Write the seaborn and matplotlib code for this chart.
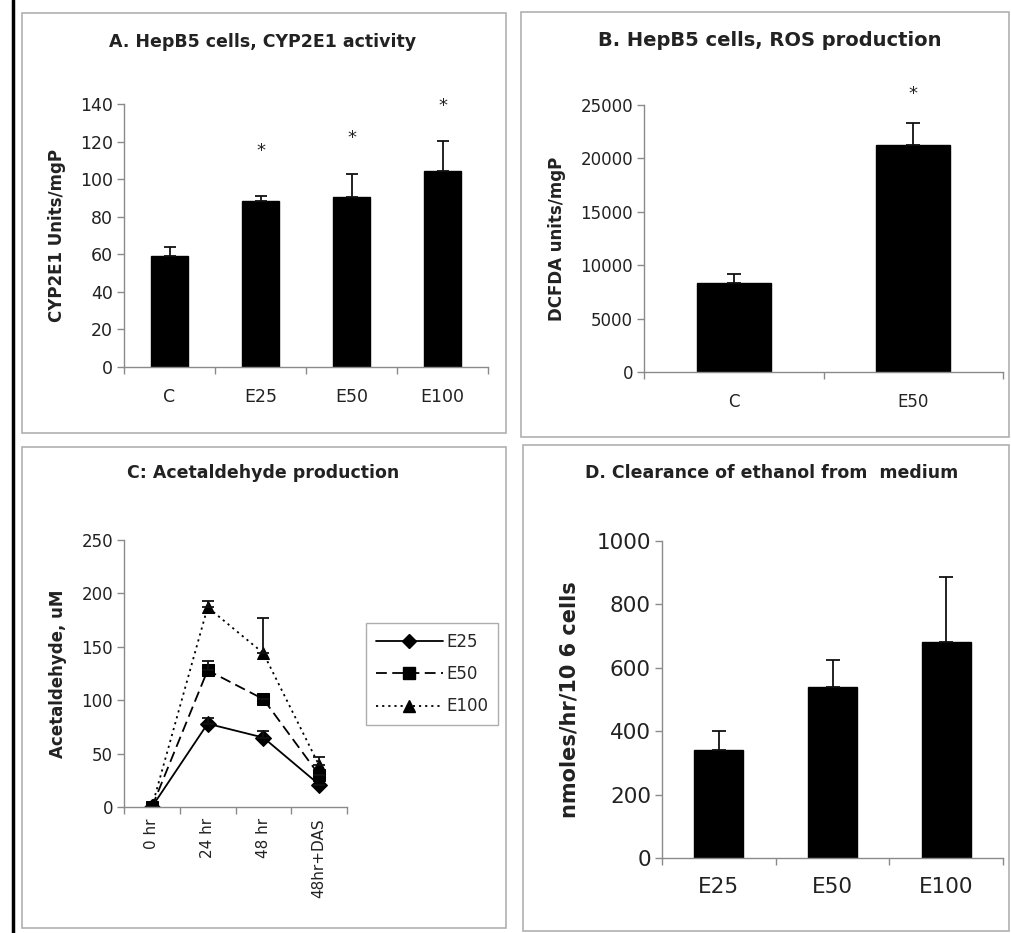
import matplotlib
matplotlib.use("Agg")
import matplotlib.pyplot as plt
import seaborn as sns
import pandas as pd
import numpy as np
from matplotlib.patches import Rectangle
from matplotlib.lines import Line2D

# ---------------- data ----------------
a_groups = ["C", "E25", "E50", "E100"]
a_values = [59, 88.5, 90.5, 104.5]
a_errors = [5, 2.5, 12.5, 16]
a_stars = [None, 115, 122, 139]

b_groups = ["C", "E50"]
b_values = [8300, 21300]
b_errors = [850, 2000]
b_stars = [None, 26000]

c_times = ["0 hr", "24 hr", "48 hr", "48hr+DAS"]
c_e25 = [0, 78, 65, 21]
c_e25_err = [0, 5, 6, 0]
c_e50 = [0, 128, 101, 30]
c_e50_err = [0, 9, 0, 0]
c_e100 = [0, 187, 144, 39]
c_e100_err = [0, 6, 33, 8]

d_groups = ["E25", "E50", "E100"]
d_values = [340, 540, 681]
d_errors = [60, 85, 207]

# ---------------- style ----------------
sns.set_theme(style="white")
plt.rcParams["font.family"] = ["DejaVu Sans"]
AXC = "#8a8a8a"
TXT = "#222222"

W, H = 1011, 933
fig = plt.figure(figsize=(W / 100, H / 100), dpi=100)


def add_ax(left, right, bottom, top):
    return fig.add_axes([left / W, (H - bottom) / H, (right - left) / W, (bottom - top) / H])


def style_ax(ax, n, tick_fs, xtick_fs=None):
    for s in ["top", "right"]:
        ax.spines[s].set_visible(False)
    for s in ["left", "bottom"]:
        ax.spines[s].set_color(AXC)
        ax.spines[s].set_linewidth(1.0)
    ax.set_xlim(-0.5, n - 0.5)
    ax.set_xticks(np.arange(-0.5, n, 1.0), minor=True)
    ax.tick_params(axis="x", which="minor", length=5, width=1, color=AXC, direction="out", bottom=True)
    ax.tick_params(axis="x", which="major", length=0, labelsize=xtick_fs or tick_fs, labelcolor=TXT, pad=15)
    ax.tick_params(axis="y", which="major", length=5, width=1, color=AXC, direction="out", left=True,
                   labelsize=tick_fs, labelcolor=TXT, pad=3)
    ax.set_facecolor("white")
    ax.grid(False)


def box(l, t, r, b):
    fig.add_artist(Rectangle((l / W, (H - b) / H), (r - l) / W, (b - t) / H,
                             transform=fig.transFigure, fill=False, edgecolor="#b0b0b0", lw=1.2))


# panel boxes
box(22, 13, 506, 433)
box(521, 12, 1009, 437)
box(22, 447, 506, 928)
box(523, 445, 1009, 931)
fig.add_artist(Line2D([12.5 / W, 12.5 / W], [0, 1], transform=fig.transFigure, color="black", lw=2.5))


def bar_panel(ax, groups, values, errors, stars, width, capsize, ewidth, tick_fs):
    df = pd.DataFrame({"g": groups, "v": values})
    sns.barplot(data=df, x="g", y="v", color="black", width=width, ax=ax, edgecolor="black",
                saturation=1, errorbar=None)
    x = np.arange(len(groups))
    ax.errorbar(x, values, yerr=[np.zeros(len(values)), errors], fmt="none", ecolor="#111111",
                elinewidth=ewidth, capsize=capsize, capthick=ewidth)
    if stars is not None:
        for xi, s in zip(x, stars):
            if s is not None:
                ax.text(xi, s, "*", ha="center", va="center", fontsize=13, color=TXT, clip_on=False)
    style_ax(ax, len(groups), tick_fs)
    ax.set_xlabel("")


# ---- Panel A ----
axA = add_ax(124, 488, 367, 104)
bar_panel(axA, a_groups, a_values, a_errors, a_stars, 0.41, 4.5, 1.3, 12.5)
axA.set_ylim(0, 140)
axA.set_yticks(np.arange(0, 141, 20))
axA.set_ylabel("CYP2E1 Units/mgP", fontsize=12, fontweight="bold", color=TXT, labelpad=10)
fig.text(263 / W, 1 - 42 / H, "A. HepB5 cells, CYP2E1 activity", ha="center", va="center",
         fontsize=12.5, fontweight="bold", color=TXT)

# ---- Panel B ----
axB = add_ax(644, 1003, 372, 105)
bar_panel(axB, b_groups, b_values, b_errors, b_stars, 0.41, 5, 1.3, 12)
axB.set_ylim(0, 25000)
axB.set_yticks(np.arange(0, 25001, 5000))
axB.set_ylabel("DCFDA units/mgP", fontsize=12, fontweight="bold", color=TXT, labelpad=10)
fig.text(770 / W, 1 - 40 / H, "B. HepB5 cells, ROS production", ha="center", va="center",
         fontsize=14, fontweight="bold", color=TXT)

# ---- Panel C ----
axC = add_ax(124, 347, 807, 540)
series = {"E25": (c_e25, c_e25_err), "E50": (c_e50, c_e50_err), "E100": (c_e100, c_e100_err)}
rows = []
for name, (vals, errs) in series.items():
    for i, (t, v) in enumerate(zip(c_times, vals)):
        rows.append({"pos": i, "time": t, "value": v, "series": name})
dfc = pd.DataFrame(rows)
sns.lineplot(data=dfc, x="pos", y="value", hue="series", style="series",
             palette={"E25": "black", "E50": "black", "E100": "black"},
             dashes={"E25": "", "E50": (6, 3), "E100": (1.2, 2.2)},
             markers={"E25": "D", "E50": "s", "E100": "^"},
             markersize=8, markeredgecolor="black", linewidth=1.3, ax=axC, legend=False)
for name, (vals, errs) in series.items():
    xs = np.arange(len(vals))
    axC.errorbar(xs, vals, yerr=[np.zeros(len(vals)), errs], fmt="none", ecolor="#111111",
                 elinewidth=1.3, capsize=4, capthick=1.3)
style_ax(axC, 4, 12, 11)
axC.set_xticks(np.arange(4))
axC.set_xticklabels(c_times, rotation=90)
axC.tick_params(axis="x", which="major", pad=8)
axC.set_ylim(0, 250)
axC.set_yticks(np.arange(0, 251, 50))
axC.set_xlabel("")
axC.set_ylabel("Acetaldehyde, uM", fontsize=12, fontweight="bold", color=TXT, labelpad=10)
handles = [
    Line2D([], [], color="black", lw=1.3, ls="-", marker="D", markersize=7),
    Line2D([], [], color="black", lw=1.3, ls=(0, (6, 3)), marker="s", markersize=8),
    Line2D([], [], color="black", lw=1.3, ls=(0, (1.2, 2.2)), marker="^", markersize=8),
]
leg = axC.legend(handles, list(series.keys()), loc="upper left", bbox_to_anchor=(1.085, 0.689),
                 borderaxespad=0, handlelength=4.0, fontsize=12, frameon=True, fancybox=False,
                 edgecolor="#999999", labelspacing=0.85, handletextpad=0.2, borderpad=0.6)
leg.get_frame().set_linewidth(1.0)
fig.text(263 / W, 1 - 473 / H, "C: Acetaldehyde production", ha="center", va="center",
         fontsize=12.5, fontweight="bold", color=TXT)

# ---- Panel D ----
axD = add_ax(662, 1003, 858, 541)
bar_panel(axD, d_groups, d_values, d_errors, None, 0.43, 5, 1.3, 15.5)
axD.set_ylim(0, 1000)
axD.set_yticks(np.arange(0, 1001, 200))
axD.tick_params(axis="x", which="major", pad=14)
axD.set_ylabel("nmoles/hr/10 6 cells", fontsize=15, fontweight="bold", color=TXT, labelpad=12)
fig.text(772 / W, 1 - 473 / H, "D. Clearance of ethanol from  medium", ha="center", va="center",
         fontsize=12.5, fontweight="bold", color=TXT)

fig.savefig("out.png", dpi=100, facecolor="white")
